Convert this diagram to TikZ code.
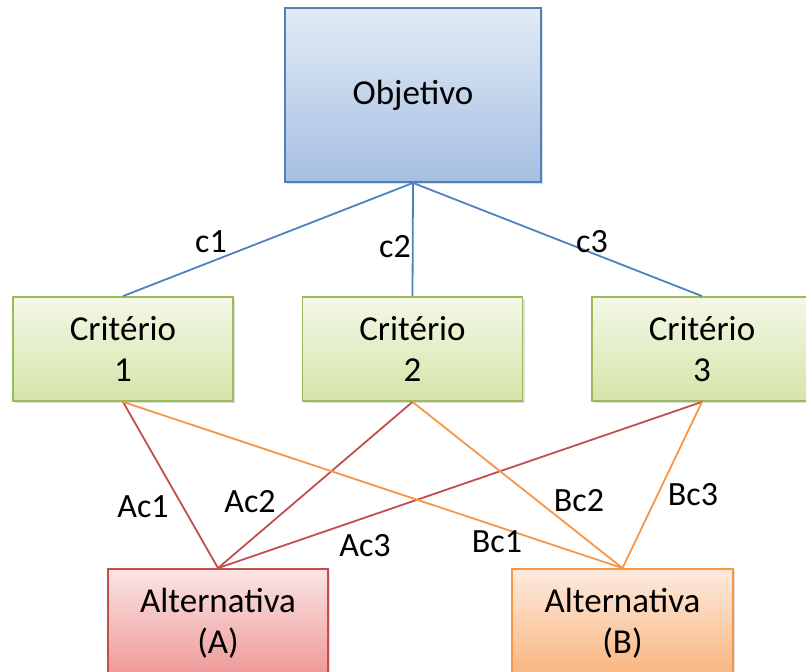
\documentclass[tikz,border=0pt]{standalone}
\usepackage{fontspec}
\setmainfont{Carlito}
\usetikzlibrary{shadows}
\definecolor{blueB}{HTML}{4F81BD}
\definecolor{blueT}{HTML}{E2EBF6}
\definecolor{blueBot}{HTML}{A6BFE2}
\definecolor{greenB}{HTML}{9BBB59}
\definecolor{greenT}{HTML}{F3F8E8}
\definecolor{greenBot}{HTML}{D5E4A8}
\definecolor{redB}{HTML}{C0504D}
\definecolor{redT}{HTML}{FBE4E4}
\definecolor{redBot}{HTML}{EE9896}
\definecolor{orB}{HTML}{F79646}
\definecolor{orT}{HTML}{FDEBDD}
\definecolor{orBot}{HTML}{F9B47E}
\tikzset{
  box/.style={rectangle, line width=1.8pt, align=center, inner sep=0pt,
    font=\fontsize{35}{41}\selectfont,
    drop shadow={opacity=0.25, shadow xshift=2pt, shadow yshift=-2pt}},
  objbox/.style={box, draw=blueB, top color=blueT, bottom color=blueBot,
    minimum width=256pt, minimum height=174pt},
  critbox/.style={box, draw=greenB, top color=greenT, bottom color=greenBot,
    minimum width=220pt, minimum height=104pt},
  altA/.style={box, draw=redB, top color=redT, bottom color=redBot,
    minimum width=220pt, minimum height=108pt},
  altB/.style={box, draw=orB, top color=orT, bottom color=orBot,
    minimum width=221pt, minimum height=108pt},
  lbl/.style={inner sep=0pt, font=\fontsize{34}{40}\selectfont},
  bl/.style={draw=blueB, line width=1.8pt},
  rl/.style={draw=redB, line width=1.8pt},
  ol/.style={draw=orB, line width=1.8pt}
}
\begin{document}
\begin{tikzpicture}[x=1pt,y=-1pt]
\useasboundingbox (0,0) rectangle (806,672);
\begin{scope}
\clip (0,0) rectangle (806,672);
\node[objbox] (obj) at (413,95) {Objetivo};
\node[critbox] (c1) at (123,349) {Critério\\1};
\node[critbox] (c2) at (412.5,349) {Critério\\2};
\node[critbox] (c3) at (702,349) {Critério\\3};
\node[altA] (a) at (218,623) {Alternativa\\(A)};
\node[altB] (b) at (622.5,623) {Alternativa\\(B)};
\draw[bl] (obj.south) -- (c1.north);
\draw[bl] (obj.south) -- (c2.north);
\draw[bl] (obj.south) -- (c3.north);
\draw[rl] (a.north) -- (c1.south);
\draw[rl] (a.north) -- (c2.south);
\draw[rl] (a.north) -- (c3.south);
\draw[ol] (b.north) -- (c1.south);
\draw[ol] (b.north) -- (c2.south);
\draw[ol] (b.north) -- (c3.south);
\end{scope}
\node[lbl] (lc1) at (211,242) {c1};
\node[lbl] (lc2) at (395,247) {c2};
\node[lbl] (lc3) at (592,242) {c3};
\node[lbl] (lac1) at (143,507) {Ac1};
\node[lbl] (lac2) at (250,502) {Ac2};
\node[lbl] (lac3) at (365,546) {Ac3};
\node[lbl] (lbc1) at (497,542) {Bc1};
\node[lbl] (lbc2) at (579,501) {Bc2};
\node[lbl] (lbc3) at (693,495) {Bc3};
\end{tikzpicture}
\end{document}
